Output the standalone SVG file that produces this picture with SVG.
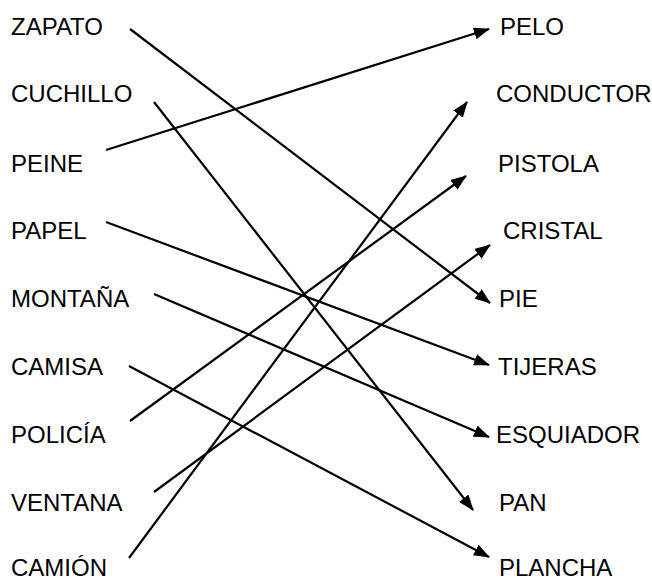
<svg xmlns="http://www.w3.org/2000/svg" width="652" height="579" viewBox="0 0 652 579">
<defs>
<marker id="arr" markerUnits="userSpaceOnUse" markerWidth="16" markerHeight="12" refX="15" refY="6" orient="auto">
<path d="M0,0 L16,6 L0,12 z" fill="#000"/>
</marker>
<style>
text{font-family:"Liberation Sans",Arial,sans-serif;font-size:24px;fill:#000}
.c line{stroke:#000;stroke-width:2.2;marker-end:url(#arr)}
</style>
</defs>
<rect width="652" height="579" fill="#fff"/>
<g id="l-zapato"><text x="11" y="35">ZAPATO</text></g>
<g id="l-cuchillo"><text x="11" y="102">CUCHILLO</text></g>
<g id="l-peine"><text x="11" y="172">PEINE</text></g>
<g id="l-papel"><text x="11" y="239">PAPEL</text></g>
<g id="l-montana"><text x="11" y="307">MONTAÑA</text></g>
<g id="l-camisa"><text x="11" y="375">CAMISA</text></g>
<g id="l-policia"><text x="11" y="443">POLICÍA</text></g>
<g id="l-ventana"><text x="11" y="511">VENTANA</text></g>
<g id="l-camion"><text x="11" y="576">CAMIÓN</text></g>
<g id="r-pelo"><text x="500" y="35">PELO</text></g>
<g id="r-conductor"><text x="496" y="102">CONDUCTOR</text></g>
<g id="r-pistola"><text x="498" y="172">PISTOLA</text></g>
<g id="r-cristal"><text x="503" y="239">CRISTAL</text></g>
<g id="r-pie"><text x="499" y="307">PIE</text></g>
<g id="r-tijeras"><text x="498" y="375">TIJERAS</text></g>
<g id="r-esquiador"><text x="496" y="443">ESQUIADOR</text></g>
<g id="r-pan"><text x="499" y="511">PAN</text></g>
<g id="r-plancha"><text x="499" y="576">PLANCHA</text></g>
<g id="connectors" class="c">
<line x1="130" y1="29" x2="490" y2="303"/>
<line x1="154" y1="102" x2="473" y2="510"/>
<line x1="106" y1="150" x2="489" y2="29"/>
<line x1="106" y1="222" x2="489" y2="365"/>
<line x1="154" y1="294" x2="489" y2="437"/>
<line x1="129" y1="366" x2="489" y2="557"/>
<line x1="130" y1="421" x2="466" y2="176"/>
<line x1="154" y1="492" x2="490" y2="245"/>
<line x1="129" y1="558" x2="467" y2="102"/>
</g>
</svg>
